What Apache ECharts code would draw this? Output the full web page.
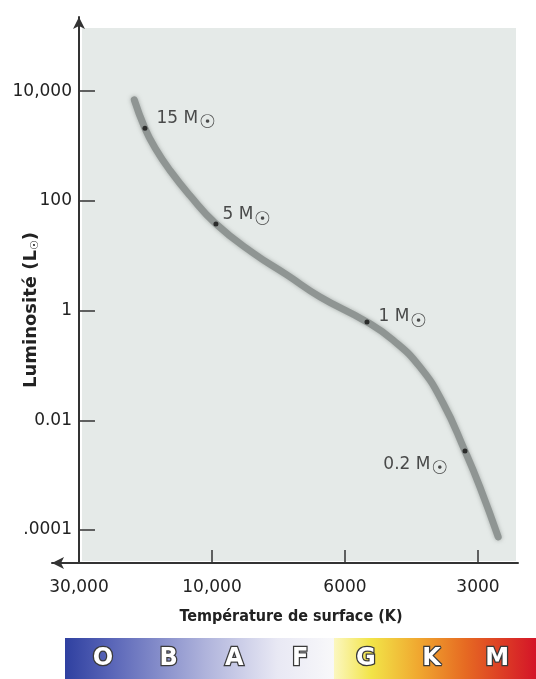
<!DOCTYPE html>
<html>
<head>
<meta charset="utf-8">
<script src="https://cdn.jsdelivr.net/npm/echarts@6/dist/echarts.min.js"></script>
<style>
  html, body { margin: 0; padding: 0; background: #fff; }
  #chart { width: 536px; height: 679px; }
</style>
</head>
<body>
<div id="chart"></div>
<script>
// main sequence track (surface temperature in K, luminosity in solar units)
const trackTemps = [19000, 17400, 16000, 14150, 12000, 9850, 8540, 7500, 6600, 5350, 4670, 4060, 3600, 3210, 2970, 2700];
const trackLums = [6900, 2100, 920, 358, 125, 38, 11.2, 4.46, 1.77, 0.62, 0.29, 0.094, 0.0207, 0.00275, 0.00061, 0.000075];

// marked stars on the track
const massLabels = ['15 M', '5 M', '1 M', '0.2 M'];
const massTemps = [17400, 9850, 5350, 3210];
const massLums = [2100, 38, 0.62, 0.00275];

const tempTicks = [30000, 10000, 6000, 3000];
const tempTickLabels = ['30,000', '10,000', '6000', '3000'];
const lumTicks = [0.0001, 0.01, 1, 100, 10000];
const lumTickLabels = ['.0001', '0.01', '1', '100', '10,000'];
const spectralClasses = ['O', 'B', 'A', 'F', 'G', 'K', 'M'];

// the temperature axis of the figure is evenly spaced between its ticks,
// so map a temperature to its place between them
function tempPos(t) {
  const lt = Math.log10(t);
  let i = 0;
  while (i < tempTicks.length - 2 && t < tempTicks[i + 1]) i++;
  const a = Math.log10(tempTicks[i]), b = Math.log10(tempTicks[i + 1]);
  return i + (a - lt) / (a - b);
}
const lumPos = l => Math.log10(l);

const labelPlace = [
  { position: 'right', offset: [4, -10] },
  { position: 'right', offset: [-1, -9] },
  { position: 'right', offset: [4, -5] },
  { position: 'left', offset: [-9, 13] }
];

const font = 'DejaVu Sans';
const ink = '#222';

const chart = echarts.init(document.getElementById('chart'), null, { renderer: 'canvas' });

const option = {
  animation: false,
  backgroundColor: '#fff',
  grid: { left: 52, right: 18, top: 17, bottom: 116, outerBoundsMode: 'none', containLabel: false },
  xAxis: {
    type: 'value',
    min: -0.203,
    max: 3.301,
    splitLine: { show: false },
    axisLine: {
      onZero: false,
      symbol: ['arrow', 'none'],
      symbolSize: [9, 12],
      lineStyle: { color: '#333', width: 2 }
    },
    axisTick: {
      inside: true,
      length: 13,
      customValues: tempTicks.slice(1).map(tempPos),
      lineStyle: { color: '#333', width: 1.5 }
    },
    axisLabel: {
      customValues: tempTicks.map(tempPos),
      formatter: v => tempTickLabels[Math.round(v)],
      margin: 16,
      fontSize: 17,
      fontFamily: font,
      color: ink
    }
  },
  yAxis: {
    type: 'value',
    min: -4.6,
    max: 5.35,
    splitLine: { show: false },
    axisLine: {
      onZero: true,
      symbol: ['none', 'arrow'],
      symbolSize: [9, 12],
      lineStyle: { color: '#333', width: 2 }
    },
    axisTick: {
      inside: true,
      length: 16,
      customValues: lumTicks.map(lumPos),
      lineStyle: { color: '#333', width: 1.5 }
    },
    axisLabel: {
      customValues: lumTicks.map(lumPos),
      formatter: v => lumTickLabels[lumTicks.findIndex(t => Math.abs(lumPos(t) - v) < 1e-6)],
      // labels hang off the grid edge, pull them over to the zero line
      margin: -20,
      fontSize: 17,
      fontFamily: font,
      color: ink
    }
  },
  graphic: [
    {
      type: 'rect', z: -10, silent: true,
      shape: { x: 82, y: 28, width: 434, height: 533 },
      style: { fill: '#e5eae8' }
    },
    {
      type: 'text', silent: true,
      x: 291, y: 617,
      style: {
        text: 'Température de surface (K)',
        font: 'bold 16px "DejaVu Sans Condensed"',
        fill: ink, align: 'center', verticalAlign: 'middle'
      }
    },
    {
      type: 'text', silent: true,
      x: 31, y: 310, rotation: Math.PI / 2,
      style: {
        text: '{a|Luminosité (L}{b|☉}{a|)}',
        rich: {
          a: { fontSize: 18, fontWeight: 'bold', fontFamily: font, fill: ink },
          b: { fontSize: 11, fontWeight: 'bold', fontFamily: font, fill: ink, padding: [9, 0, 0, 0] }
        },
        align: 'center', verticalAlign: 'middle'
      }
    },
    {
      type: 'rect', silent: true,
      shape: { x: 65, y: 638, width: 471, height: 41 },
      style: {
        fill: new echarts.graphic.LinearGradient(0, 0, 1, 0, [
          { offset: 0, color: '#2f40a0' },
          { offset: 0.1, color: '#5a66b8' },
          { offset: 0.3, color: '#b0b4dc' },
          { offset: 0.45, color: '#e8e8f4' },
          { offset: 0.57, color: '#f8f8fa' },
          { offset: 0.571, color: '#fbf7c0' },
          { offset: 0.65, color: '#f2e448' },
          { offset: 0.75, color: '#f0a830' },
          { offset: 0.85, color: '#e66a22' },
          { offset: 1, color: '#d41428' }
        ])
      }
    }
  ].concat(spectralClasses.map((c, i) => ({
    type: 'text', silent: true,
    x: 103 + i * 65.7, y: 659,
    style: {
      text: c,
      font: 'bold 24px "DejaVu Sans"',
      fill: '#fff', stroke: '#3a3a3a', lineWidth: 2.5,
      align: 'center', verticalAlign: 'middle'
    }
  }))),
  series: [
    {
      type: 'line',
      smooth: true,
      showSymbol: false,
      silent: true,
      data: trackTemps.map((t, i) => [tempPos(t), lumPos(trackLums[i])]),
      lineStyle: {
        color: '#8f9593', width: 7, cap: 'round',
        shadowBlur: 4, shadowColor: 'rgba(120,126,124,0.6)'
      },
      z: 2
    },
    {
      type: 'scatter',
      symbolSize: 5,
      silent: true,
      itemStyle: { color: '#111' },
      data: massLabels.map((n, i) => ({
        name: n,
        value: [tempPos(massTemps[i]), lumPos(massLums[i])],
        label: labelPlace[i]
      })),
      label: {
        show: true,
        formatter: p => '{a|' + p.name + '}{b|☉}',
        rich: {
          a: { fontSize: 17, fontFamily: font, color: ink },
          b: { fontSize: 19, fontFamily: font, color: ink, padding: [10, 0, 0, 1] }
        }
      },
      z: 3
    }
  ]
};

chart.setOption(option);
</script>
</body>
</html>
